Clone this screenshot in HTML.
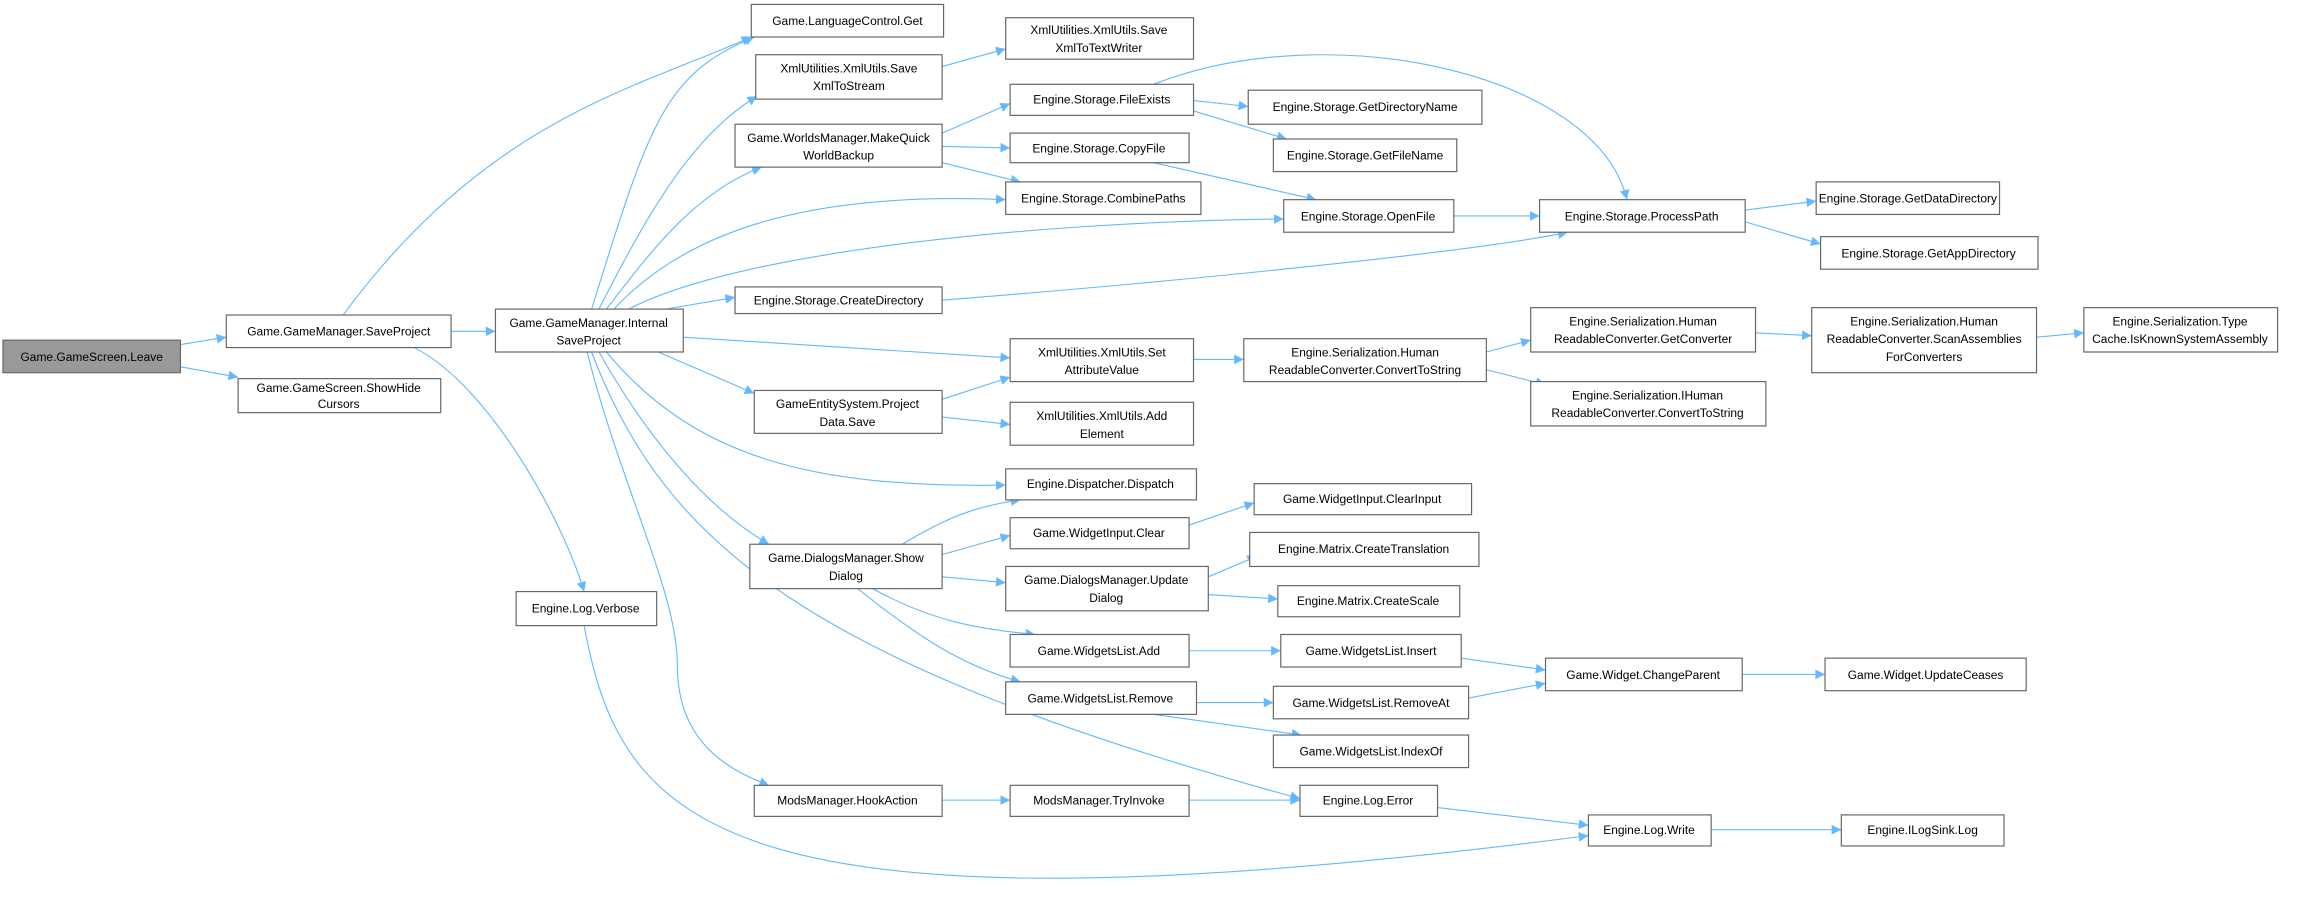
<!DOCTYPE html>
<html><head><meta charset="utf-8"><style>
html,body{margin:0;padding:0;background:#fff;}
svg{display:block;}
text{font-family:"Liberation Sans",sans-serif;font-size:8.1px;fill:#000;text-anchor:middle;}
.n{fill:#fff;stroke:#666;stroke-width:0.8;}
.e{fill:none;stroke:#63b8ff;stroke-width:0.75;}
</style></head><body>
<svg width="2319" height="922" viewBox="0 0 1568 623.4" xmlns="http://www.w3.org/2000/svg">
<defs><marker id="a" viewBox="0 0 10 10" refX="10" refY="5" markerWidth="9" markerHeight="6.5" markerUnits="userSpaceOnUse" orient="auto"><path d="M0,0L10,5L0,10z" fill="#63b8ff"/></marker></defs>
<g class="e" marker-end="url(#a)">
<path d="M122,233L153,228"/>
<path d="M122,248L161,255"/>
<path d="M305,224L335,224"/>
<path d="M232,213C330,80 430,60 508,25"/>
<path d="M280,235C330,260 380,350 395,400"/>
<path d="M400,209C440,80 450,50 510,25"/>
<path d="M405,209C440,140 470,90 512,65"/>
<path d="M410,209C440,170 470,130 515,113"/>
<path d="M415,209C470,150 560,130 680,135"/>
<path d="M425,209C500,170 700,150 868,148"/>
<path d="M450,209L497,201"/>
<path d="M462,228L683,242"/>
<path d="M445,238L510,266"/>
<path d="M410,238C470,310 550,330 680,328"/>
<path d="M405,238C440,300 480,345 520,368"/>
<path d="M400,238C450,370 550,450 879,540"/>
<path d="M397,238C420,330 458,400 458,450C458,500 490,520 520,531"/>
<path d="M395,423C420,560 490,640 1074,565"/>
<path d="M637,45L680,33"/>
<path d="M637,90L683,70"/>
<path d="M637,99L683,100"/>
<path d="M637,110L690,123"/>
<path d="M807,68L844,72"/>
<path d="M807,75L870,94"/>
<path d="M780,57C900,10 1080,50 1100,135"/>
<path d="M780,110L890,135"/>
<path d="M983,146L1041,146"/>
<path d="M637,203C800,190 1000,170 1060,157"/>
<path d="M1180,142L1228,136"/>
<path d="M1180,150L1231,165"/>
<path d="M637,270L683,255"/>
<path d="M637,282L683,287"/>
<path d="M807,243L841,243"/>
<path d="M1005,238L1035,230"/>
<path d="M1005,250L1045,260"/>
<path d="M1187,225L1225,227"/>
<path d="M1377,228L1409,225"/>
<path d="M610,368C640,350 660,342 690,338"/>
<path d="M637,375L683,362"/>
<path d="M637,390L680,394"/>
<path d="M590,398C630,420 660,425 700,429"/>
<path d="M580,398C620,430 650,450 690,461"/>
<path d="M804,355L848,340"/>
<path d="M817,390L850,376"/>
<path d="M817,402L864,405"/>
<path d="M804,440L866,440"/>
<path d="M809,475L861,475"/>
<path d="M780,483L880,497"/>
<path d="M988,445L1045,453"/>
<path d="M993,472L1045,462"/>
<path d="M1178,456L1234,456"/>
<path d="M637,541L683,541"/>
<path d="M804,541L879,541"/>
<path d="M972,546L1074,558"/>
<path d="M1157,561L1245,561"/>
</g>
<rect x="2" y="230" width="120" height="22" fill="#999" stroke="#666" stroke-width="0.8"/><text x="62" y="244">Game.GameScreen.Leave</text>
<rect class="n" x="153" y="213" width="152" height="22"/><text x="229" y="227">Game.GameManager.SaveProject</text>
<rect class="n" x="161" y="256" width="137" height="23"/><text x="229" y="265">Game.GameScreen.ShowHide</text><text x="229" y="276">Cursors</text>
<rect class="n" x="335" y="209" width="127" height="29"/><text x="398" y="221">Game.GameManager.Internal</text><text x="398" y="233">SaveProject</text>
<rect class="n" x="349" y="400" width="95" height="23"/><text x="396" y="414">Engine.Log.Verbose</text>
<rect class="n" x="508" y="3" width="130" height="22"/><text x="573" y="17">Game.LanguageControl.Get</text>
<rect class="n" x="511" y="37" width="126" height="30"/><text x="574" y="49">XmlUtilities.XmlUtils.Save</text><text x="574" y="61">XmlToStream</text>
<rect class="n" x="497" y="84" width="140" height="29"/><text x="567" y="96">Game.WorldsManager.MakeQuick</text><text x="567" y="108">WorldBackup</text>
<rect class="n" x="497" y="194" width="140" height="18"/><text x="567" y="206">Engine.Storage.CreateDirectory</text>
<rect class="n" x="510" y="264" width="127" height="29"/><text x="573" y="276">GameEntitySystem.Project</text><text x="573" y="288">Data.Save</text>
<rect class="n" x="507" y="368" width="130" height="30"/><text x="572" y="380">Game.DialogsManager.Show</text><text x="572" y="392">Dialog</text>
<rect class="n" x="510" y="531" width="127" height="21"/><text x="573" y="544">ModsManager.HookAction</text>
<rect class="n" x="680" y="12" width="127" height="28"/><text x="743" y="23">XmlUtilities.XmlUtils.Save</text><text x="743" y="35">XmlToTextWriter</text>
<rect class="n" x="683" y="57" width="124" height="21"/><text x="745" y="70">Engine.Storage.FileExists</text>
<rect class="n" x="683" y="90" width="121" height="20"/><text x="743" y="103">Engine.Storage.CopyFile</text>
<rect class="n" x="680" y="123" width="132" height="22"/><text x="746" y="137">Engine.Storage.CombinePaths</text>
<rect class="n" x="683" y="229" width="124" height="29"/><text x="745" y="241">XmlUtilities.XmlUtils.Set</text><text x="745" y="253">AttributeValue</text>
<rect class="n" x="683" y="272" width="124" height="29"/><text x="745" y="284">XmlUtilities.XmlUtils.Add</text><text x="745" y="296">Element</text>
<rect class="n" x="680" y="317" width="129" height="21"/><text x="744" y="330">Engine.Dispatcher.Dispatch</text>
<rect class="n" x="683" y="350" width="121" height="21"/><text x="743" y="363">Game.WidgetInput.Clear</text>
<rect class="n" x="680" y="383" width="137" height="30"/><text x="748" y="395">Game.DialogsManager.Update</text><text x="748" y="407">Dialog</text>
<rect class="n" x="683" y="429" width="121" height="22"/><text x="743" y="443">Game.WidgetsList.Add</text>
<rect class="n" x="680" y="461" width="129" height="22"/><text x="744" y="475">Game.WidgetsList.Remove</text>
<rect class="n" x="683" y="531" width="121" height="21"/><text x="743" y="544">ModsManager.TryInvoke</text>
<rect class="n" x="844" y="61" width="158" height="23"/><text x="923" y="75">Engine.Storage.GetDirectoryName</text>
<rect class="n" x="861" y="94" width="124" height="22"/><text x="923" y="108">Engine.Storage.GetFileName</text>
<rect class="n" x="868" y="135" width="115" height="22"/><text x="925" y="149">Engine.Storage.OpenFile</text>
<rect class="n" x="841" y="229" width="164" height="29"/><text x="923" y="241">Engine.Serialization.Human</text><text x="923" y="253">ReadableConverter.ConvertToString</text>
<rect class="n" x="848" y="327" width="147" height="21"/><text x="921" y="340">Game.WidgetInput.ClearInput</text>
<rect class="n" x="845" y="360" width="155" height="23"/><text x="922" y="374">Engine.Matrix.CreateTranslation</text>
<rect class="n" x="864" y="396" width="123" height="21"/><text x="925" y="409">Engine.Matrix.CreateScale</text>
<rect class="n" x="866" y="429" width="122" height="22"/><text x="927" y="443">Game.WidgetsList.Insert</text>
<rect class="n" x="861" y="464" width="132" height="22"/><text x="927" y="478">Game.WidgetsList.RemoveAt</text>
<rect class="n" x="861" y="497" width="132" height="22"/><text x="927" y="511">Game.WidgetsList.IndexOf</text>
<rect class="n" x="879" y="531" width="93" height="21"/><text x="925" y="544">Engine.Log.Error</text>
<rect class="n" x="1041" y="135" width="139" height="22"/><text x="1110" y="149">Engine.Storage.ProcessPath</text>
<rect class="n" x="1035" y="208" width="152" height="30"/><text x="1111" y="220">Engine.Serialization.Human</text><text x="1111" y="232">ReadableConverter.GetConverter</text>
<rect class="n" x="1035" y="258" width="159" height="30"/><text x="1114" y="270">Engine.Serialization.IHuman</text><text x="1114" y="282">ReadableConverter.ConvertToString</text>
<rect class="n" x="1045" y="445" width="133" height="22"/><text x="1111" y="459">Game.Widget.ChangeParent</text>
<rect class="n" x="1074" y="551" width="83" height="21"/><text x="1115" y="564">Engine.Log.Write</text>
<rect class="n" x="1228" y="123" width="124" height="22"/><text x="1290" y="137">Engine.Storage.GetDataDirectory</text>
<rect class="n" x="1231" y="160" width="147" height="22"/><text x="1304" y="174">Engine.Storage.GetAppDirectory</text>
<rect class="n" x="1225" y="208" width="152" height="44"/><text x="1301" y="220">Engine.Serialization.Human</text><text x="1301" y="232">ReadableConverter.ScanAssemblies</text><text x="1301" y="244">ForConverters</text>
<rect class="n" x="1409" y="208" width="131" height="30"/><text x="1474" y="220">Engine.Serialization.Type</text><text x="1474" y="232">Cache.IsKnownSystemAssembly</text>
<rect class="n" x="1234" y="445" width="136" height="22"/><text x="1302" y="459">Game.Widget.UpdateCeases</text>
<rect class="n" x="1245" y="551" width="110" height="21"/><text x="1300" y="564">Engine.ILogSink.Log</text>
</svg>
</body></html>
